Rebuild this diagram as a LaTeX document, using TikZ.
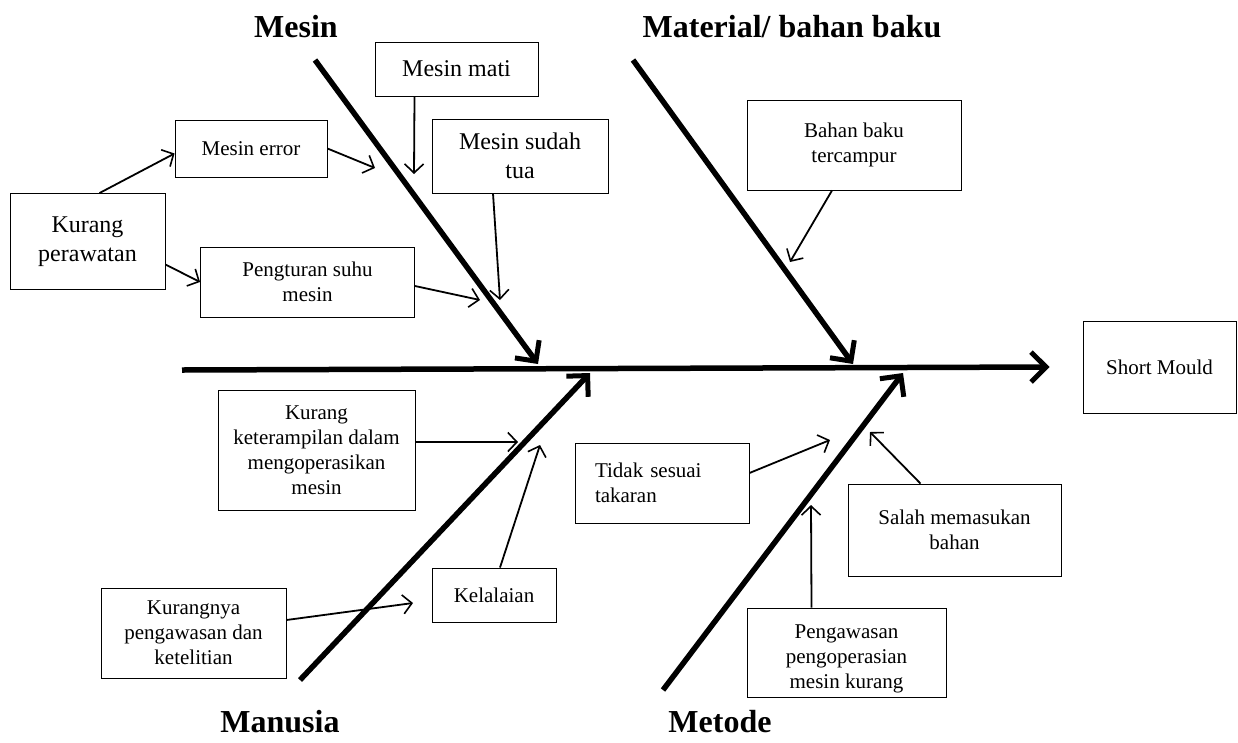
\documentclass[tikz,border=0pt]{standalone}
\usepackage{fontspec}
\setmainfont{Liberation Serif}
\usetikzlibrary{arrows.meta}

\begin{document}
\begin{tikzpicture}[x=1pt,y=-1pt,
	kotak/.style={draw, line width=0.9pt, align=center, inner sep=0pt, font=\fontsize{21}{25}\selectfont},
	besar/.style={font=\fontsize{24}{29}\selectfont},
	judul/.style={font=\fontsize{32}{36}\selectfont\bfseries},
	tulang/.style={line width=5.5pt, -{Straight Barb[length=15pt,width=30pt,line width=5pt]}},
	panah/.style={line width=1.8pt, -{Straight Barb[length=9pt,width=19pt,line width=1.6pt]}}]
	%					\draw[help lines, color=black!50, step=50pt, very thin](0,0)grid(1238,742);
	\useasboundingbox (0,0) rectangle (1238,742);
	
	\node (hmesin) at (296,27)[judul]{Mesin};
	\node (hmaterial) at (792,27)[judul]{Material/ bahan baku};
	\node (hmanusia) at (280,722)[judul]{Manusia};
	\node (hmetode) at (720,722)[judul]{Metode};
	
	\node (short) at (1159.5,367)[kotak, minimum width=153pt, minimum height=92pt]{Short Mould};
	
	\coordinate (ekor) at (182,370);
	\coordinate (mesinA) at (315,60);
	\coordinate (mesinB) at (538,364);
	\coordinate (materialA) at (633,60);
	\coordinate (materialB) at (853,364);
	\coordinate (manusiaA) at (300,680);
	\coordinate (manusiaB) at (590,373);
	\coordinate (metodeA) at (663,690);
	\coordinate (metodeB) at (903,373);
	
	\draw [tulang](ekor)--([xshift=-33pt]short.west);
	\draw [tulang](mesinA)--(mesinB);
	\draw [tulang](materialA)--(materialB);
	\draw [tulang](manusiaA)--(manusiaB);
	\draw [tulang](metodeA)--(metodeB);
	
	% mesin
	\node (mati) at (456.5,69)[kotak, besar, minimum width=163pt, minimum height=54pt]{Mesin mati};
	\node (error) at (251,148.5)[kotak, minimum width=152pt, minimum height=57pt]{Mesin error};
	\node (tua) at (520,156)[kotak, besar, minimum width=176pt, minimum height=74pt]{Mesin sudah\\tua};
	\node (rawat) at (87.5,241.5)[kotak, besar, minimum width=155pt, minimum height=96pt]{Kurang\\perawatan};
	\node (suhu) at (307.5,282)[kotak, minimum width=214pt, minimum height=70pt]{Pengturan suhu\\mesin};
	\coordinate (p1) at (414,174);
	\coordinate (p2) at (375,168);
	\coordinate (p3) at (500,300);
	\coordinate (p4) at (480,300);
	\draw [panah]([xshift=-42pt]mati.south)--(p1);
	\draw [panah](error.east)--(p2);
	\draw [panah]([xshift=-27pt]tua.south)--(p3);
	\draw [panah]([yshift=-4pt]suhu.east)--(p4);
	\draw [panah]([xshift=12pt]rawat.north)--([yshift=-5pt]error.west);
	\draw [panah]([yshift=-23pt]rawat.east)--(suhu.west);
	
	% material
	\node (campur) at (854,145)[kotak, minimum width=214pt, minimum height=90pt]{Bahan baku\\tercampur};
	\coordinate (p5) at (790,262);
	\draw [panah]([xshift=-22pt]campur.south)--(p5);
	
	% manusia
	\node (terampil) at (316.5,450)[kotak, minimum width=197pt, minimum height=120pt]{Kurang\\keterampilan dalam\\mengoperasikan\\mesin};
	\node (kelalaian) at (494,595)[kotak, minimum width=124pt, minimum height=54pt]{Kelalaian};
	\node (awas) at (193.5,633)[kotak, minimum width=185pt, minimum height=90pt]{Kurangnya\\pengawasan dan\\ketelitian};
	\coordinate (p6) at (518,442);
	\coordinate (p7) at (540,445);
	\coordinate (p8) at (413,603);
	\draw [panah]([yshift=8pt]terampil.east)--(p6);
	\draw [panah]([xshift=6pt]kelalaian.north)--(p7);
	\draw [panah]([yshift=13pt]awas.east)--(p8);
	
	% metode
	\node (takaran) at (662,483)[kotak, align=left, text width=134pt, inner xsep=20pt, minimum height=80pt]{Tidak sesuai\\takaran};
	\node (salah) at (954.5,530)[kotak, minimum width=213pt, minimum height=92pt]{Salah memasukan\\bahan};
	\node (operasi) at (846.5,652.5)[kotak, minimum width=199pt, minimum height=89pt]{\rule{0pt}{27pt}Pengawasan\\pengoperasian\\mesin kurang};
	\coordinate (p9) at (830,440);
	\coordinate (p10) at (870,432);
	\coordinate (p11) at (811,505);
	\draw [panah]([yshift=10pt]takaran.east)--(p9);
	\draw [panah]([xshift=-34pt]salah.north)--(p10);
	\draw [panah]([xshift=-35pt]operasi.north)--(p11);
	
\end{tikzpicture}
\end{document}
